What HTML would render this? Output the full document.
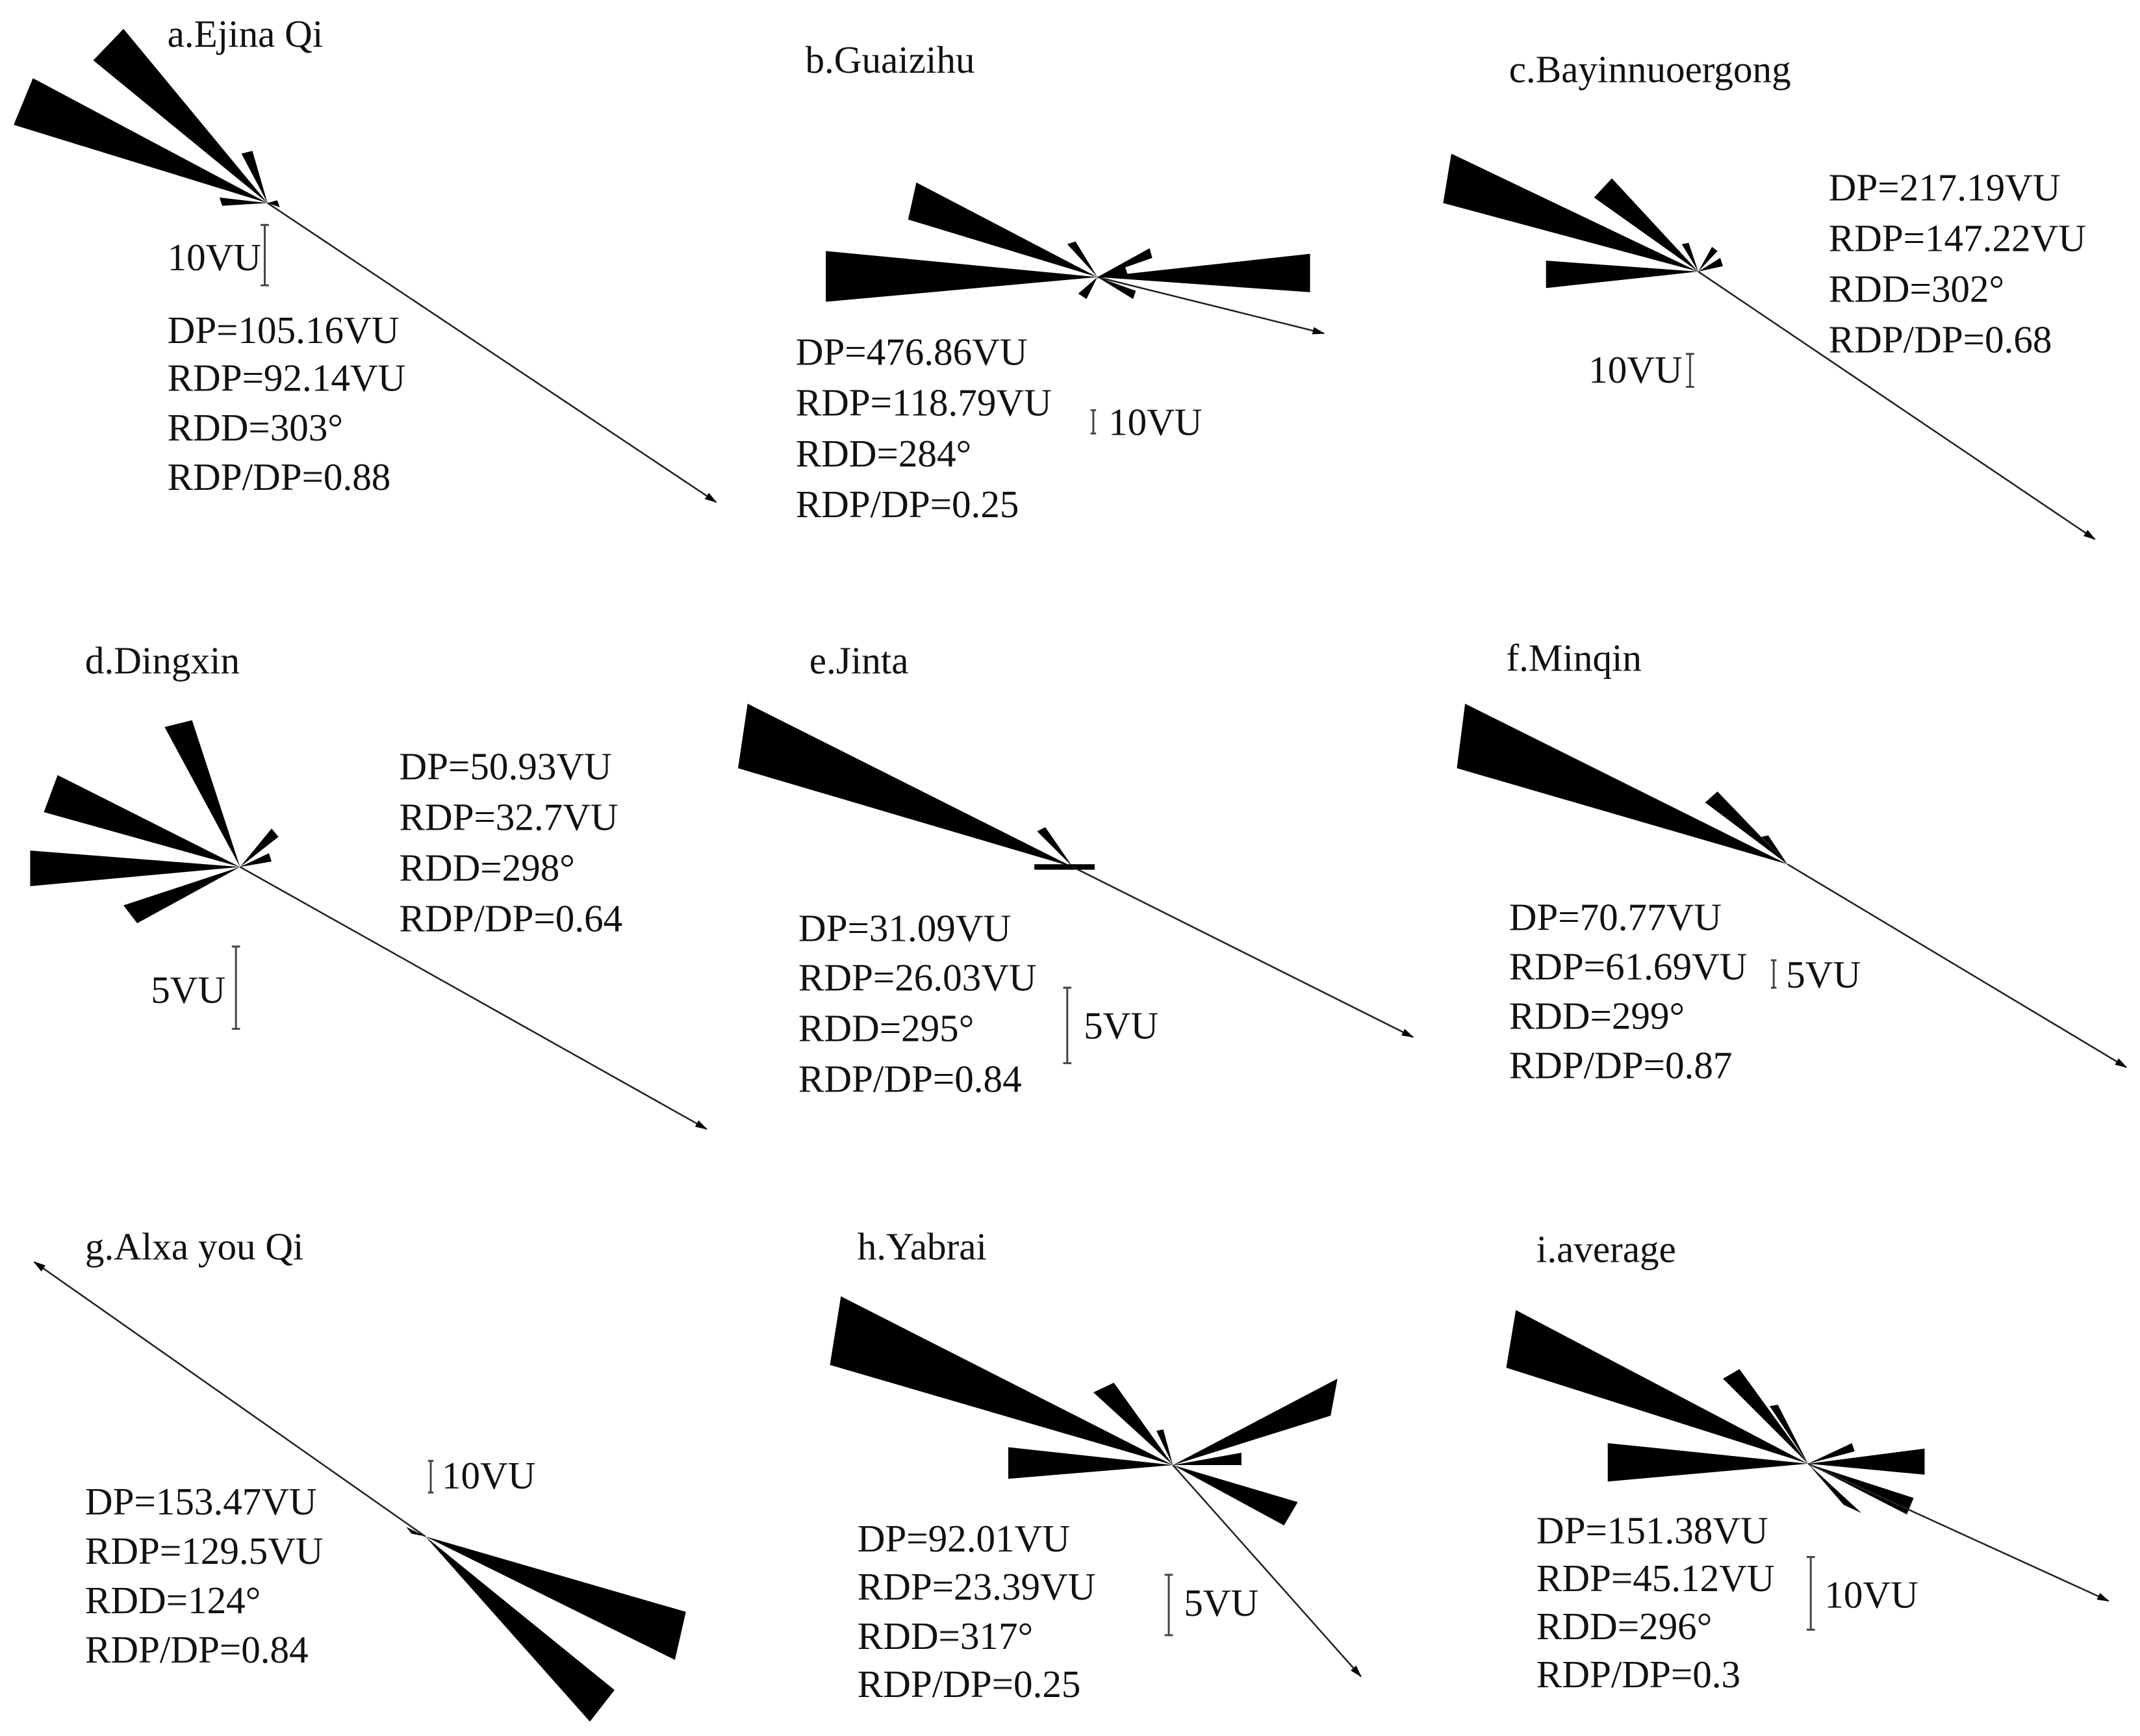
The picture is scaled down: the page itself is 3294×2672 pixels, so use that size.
<!DOCTYPE html>
<html><head><meta charset="utf-8"><style>
html,body{margin:0;padding:0;background:#fff;}
svg{display:block;}
text{font-family:"Liberation Serif",serif;font-size:28px;fill:#111;}
.w{fill:#000;}
.ar{stroke:#222;stroke-width:1.2;fill:none;}
.sb{stroke:#444;stroke-width:1.4;fill:none;}
</style></head><body>
<svg width="3294" height="2672" viewBox="0 0 1560 1265.5" preserveAspectRatio="none" xmlns="http://www.w3.org/2000/svg">
<defs><marker id="m" viewBox="0 0 10 10" refX="9" refY="5" markerWidth="9" markerHeight="9" orient="auto" markerUnits="userSpaceOnUse"><path d="M0,2 L10,5 L0,8 z" fill="#000"/></marker></defs>

<!-- a -->
<g>
<polygon class="w" points="195,148 24,57 10,91"/>
<polygon class="w" points="195,148 90,21 68,44"/>
<polygon class="w" points="195,148 176,112 184,110"/>
<polygon class="w" points="195,148 160,144 162,150"/>
<polygon class="w" points="195,148 202,146 204,151"/>
<line class="ar" x1="195" y1="148" x2="522" y2="366" marker-end="url(#m)"/>
<path class="sb" d="M193,164 V208 M190,164 H196 M190,208 H196"/>
<text x="122" y="34">a.Ejina Qi</text>
<text x="122" y="197">10VU</text>
<text x="122" y="250">DP=105.16VU</text>
<text x="122" y="285">RDP=92.14VU</text>
<text x="122" y="321">RDD=303°</text>
<text x="122" y="357">RDP/DP=0.88</text>
</g>

<!-- b -->
<g>
<polygon class="w" points="800,202 602,183 602,220"/>
<polygon class="w" points="800,202 955,185 955,213"/>
<polygon class="w" points="800,202 668,133 662,160"/>
<polygon class="w" points="800,202 778,178 784,176"/>
<polygon class="w" points="800,202 838,181 840,188"/>
<polygon class="w" points="800,202 820,194 822,200"/>
<polygon class="w" points="800,202 786,214 792,218"/>
<polygon class="w" points="800,202 828,212 826,218"/>
<line class="ar" x1="800" y1="202" x2="965" y2="243" marker-end="url(#m)"/>
<path class="sb" d="M797,299 V316 M795,299 H799 M795,316 H799"/>
<text x="587" y="53">b.Guaizihu</text>
<text x="808" y="317">10VU</text>
<text x="580" y="266">DP=476.86VU</text>
<text x="580" y="303">RDP=118.79VU</text>
<text x="580" y="340">RDD=284°</text>
<text x="580" y="377">RDP/DP=0.25</text>
</g>

<!-- c -->
<g>
<polygon class="w" points="1238,198 1058,112 1052,148"/>
<polygon class="w" points="1238,198 1175,130 1162,144"/>
<polygon class="w" points="1238,198 1127,190 1127,210"/>
<polygon class="w" points="1238,198 1248,180 1252,183"/>
<polygon class="w" points="1238,198 1226,178 1231,177"/>
<polygon class="w" points="1238,198 1254,188 1256,194"/>
<line class="ar" x1="1238" y1="198" x2="1527" y2="393" marker-end="url(#m)"/>
<path class="sb" d="M1232,258 V282 M1229,258 H1235 M1229,282 H1235"/>
<text x="1100" y="60">c.Bayinnuoergong</text>
<text x="1158" y="279">10VU</text>
<text x="1333" y="146">DP=217.19VU</text>
<text x="1333" y="183">RDP=147.22VU</text>
<text x="1333" y="220">RDD=302°</text>
<text x="1333" y="257">RDP/DP=0.68</text>
</g>

<!-- d -->
<g>
<polygon class="w" points="175,632 120,530 140,525"/>
<polygon class="w" points="175,632 42,565 32,592"/>
<polygon class="w" points="175,632 22,620 22,646"/>
<polygon class="w" points="175,632 90,660 100,673"/>
<polygon class="w" points="175,632 198,604 203,610"/>
<polygon class="w" points="175,632 196,622 198,628"/>
<line class="ar" x1="175" y1="632" x2="515" y2="823" marker-end="url(#m)"/>
<path class="sb" d="M172,690 V750 M169,690 H175 M169,750 H175"/>
<text x="62" y="491">d.Dingxin</text>
<text x="110" y="731">5VU</text>
<text x="291" y="568">DP=50.93VU</text>
<text x="291" y="605">RDP=32.7VU</text>
<text x="291" y="642">RDD=298°</text>
<text x="291" y="679">RDP/DP=0.64</text>
</g>

<!-- e -->
<g>
<polygon class="w" points="782,632 545,513 538,560"/>
<polygon class="w" points="782,632 756,606 762,603"/>
<rect class="w" x="754" y="630" width="44" height="4"/>
<line class="ar" x1="782" y1="632" x2="1030" y2="756" marker-end="url(#m)"/>
<path class="sb" d="M778,720 V775 M775,720 H781 M775,775 H781"/>
<text x="590" y="491">e.Jinta</text>
<text x="790" y="757">5VU</text>
<text x="582" y="686">DP=31.09VU</text>
<text x="582" y="722">RDP=26.03VU</text>
<text x="582" y="759">RDD=295°</text>
<text x="582" y="796">RDP/DP=0.84</text>
</g>

<!-- f -->
<g>
<polygon class="w" points="1303,630 1068,513 1062,560"/>
<polygon class="w" points="1303,630 1243,585 1252,577"/>
<polygon class="w" points="1303,630 1284,610 1289,609"/>
<line class="ar" x1="1303" y1="630" x2="1550" y2="778" marker-end="url(#m)"/>
<path class="sb" d="M1293,700 V720 M1291,700 H1295 M1291,720 H1295"/>
<text x="1098" y="489">f.Minqin</text>
<text x="1302" y="720">5VU</text>
<text x="1100" y="678">DP=70.77VU</text>
<text x="1100" y="714">RDP=61.69VU</text>
<text x="1100" y="750">RDD=299°</text>
<text x="1100" y="786">RDP/DP=0.87</text>
</g>

<!-- g -->
<g>
<polygon class="w" points="310,1120 500,1175 492,1210"/>
<polygon class="w" points="310,1120 448,1232 430,1255"/>
<polygon class="w" points="310,1120 296,1113 300,1118"/>
<line class="ar" x1="310" y1="1120" x2="25" y2="920" marker-end="url(#m)"/>
<path class="sb" d="M314,1065 V1088 M312,1065 H316 M312,1088 H316"/>
<text x="62" y="918">g.Alxa you Qi</text>
<text x="322" y="1085">10VU</text>
<text x="62" y="1104">DP=153.47VU</text>
<text x="62" y="1140">RDP=129.5VU</text>
<text x="62" y="1176">RDD=124°</text>
<text x="62" y="1212">RDP/DP=0.84</text>
</g>

<!-- h -->
<g>
<polygon class="w" points="855,1068 613,945 605,995"/>
<polygon class="w" points="855,1068 975,1005 970,1032"/>
<polygon class="w" points="855,1068 735,1055 735,1078"/>
<polygon class="w" points="855,1068 946,1095 936,1112"/>
<polygon class="w" points="855,1068 797,1015 812,1008"/>
<polygon class="w" points="855,1068 905,1059 905,1068"/>
<polygon class="w" points="855,1068 843,1043 848,1042"/>
<line class="ar" x1="855" y1="1068" x2="992" y2="1222" marker-end="url(#m)"/>
<path class="sb" d="M852,1148 V1192 M849,1148 H855 M849,1192 H855"/>
<text x="625" y="918">h.Yabrai</text>
<text x="863" y="1178">5VU</text>
<text x="625" y="1131">DP=92.01VU</text>
<text x="625" y="1166">RDP=23.39VU</text>
<text x="625" y="1202">RDD=317°</text>
<text x="625" y="1237">RDP/DP=0.25</text>
</g>

<!-- i -->
<g>
<polygon class="w" points="1318,1067 1105,955 1098,997"/>
<polygon class="w" points="1318,1067 1172,1052 1172,1080"/>
<polygon class="w" points="1318,1067 1403,1056 1403,1075"/>
<polygon class="w" points="1318,1067 1395,1092 1390,1104"/>
<polygon class="w" points="1318,1067 1256,1005 1268,998"/>
<polygon class="w" points="1318,1067 1344,1097 1357,1103"/>
<polygon class="w" points="1318,1067 1290,1025 1296,1024"/>
<polygon class="w" points="1318,1067 1350,1052 1352,1058"/>
<line class="ar" x1="1318" y1="1067" x2="1537" y2="1167" marker-end="url(#m)"/>
<path class="sb" d="M1320,1135 V1188 M1317,1135 H1323 M1317,1188 H1323"/>
<text x="1120" y="920">i.average</text>
<text x="1330" y="1172">10VU</text>
<text x="1120" y="1125">DP=151.38VU</text>
<text x="1120" y="1160">RDP=45.12VU</text>
<text x="1120" y="1195">RDD=296°</text>
<text x="1120" y="1230">RDP/DP=0.3</text>
</g>
</svg>
</body></html>
